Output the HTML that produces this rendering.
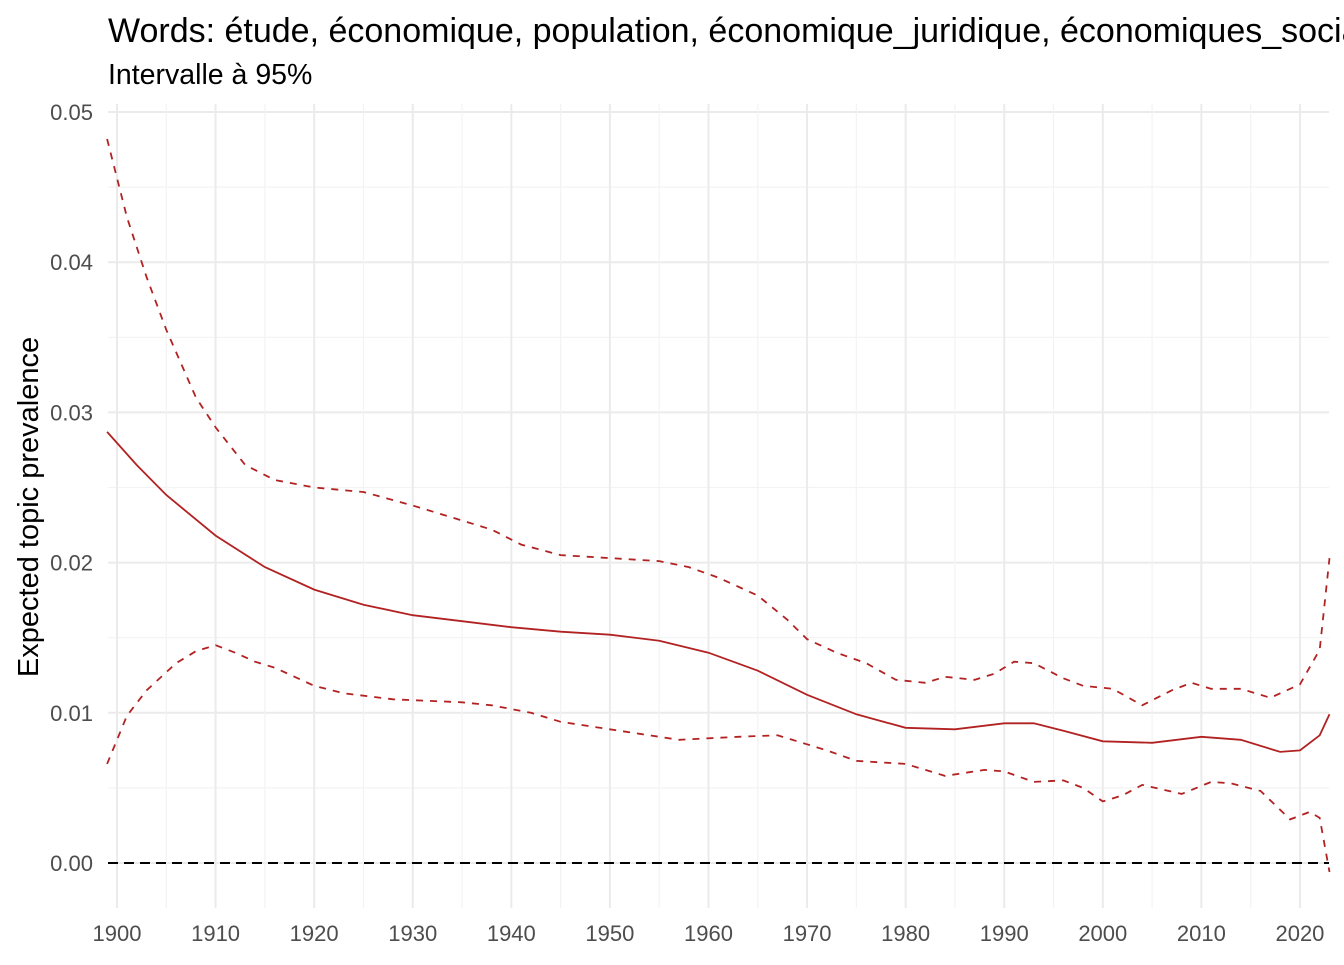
<!DOCTYPE html>
<html><head><meta charset="utf-8"><style>
body{margin:0;background:#fff}
svg text{font-family:"Liberation Sans",Arial,sans-serif}
</style></head><body>
<svg id="s" width="1344" height="960" xmlns="http://www.w3.org/2000/svg">
<text x="108" y="42" font-size="34" fill="#000">Words: étude, économique, population, économique_juridique, économiques_sociales</text>
<text x="108" y="84" font-size="28.5" fill="#000">Intervalle à 95%</text>
<g id="grid"></g>
<g id="lab" font-size="22" fill="#4d4d4d"></g>
<text transform="translate(38,507) rotate(-90)" text-anchor="middle" font-size="29" fill="#000">Expected topic prevalence</text>
<line x1="108" x2="1329" y1="863" y2="863" stroke="#000" stroke-width="2" stroke-dasharray="10,6"/>
<g id="lines" fill="none" stroke="#b22222" stroke-width="1.8"></g>
</svg>
<script>
const X=y=>117+(y-1900)*9.858, Y=v=>863-v*15020;
const ns="http://www.w3.org/2000/svg";
function el(p,t,a,txt){const e=document.createElementNS(ns,t);for(const k in a)e.setAttribute(k,a[k]);if(txt)e.textContent=txt;document.getElementById(p).appendChild(e);}
for(let v=0;v<=0.05001;v+=0.005){const maj=Math.round(v*1000)%10==0;el('grid','line',{x1:108,x2:1329,y1:Y(v),y2:Y(v),stroke:maj?'#ebebeb':'#f3f3f3','stroke-width':maj?2:1.2});
 if(maj)el('lab','text',{x:93,y:Y(v)+8,'text-anchor':'end'},v.toFixed(2));}
for(let yr=1900;yr<=2020;yr+=5){const maj=yr%10==0;el('grid','line',{x1:X(yr),x2:X(yr),y1:104,y2:908,stroke:maj?'#ebebeb':'#f3f3f3','stroke-width':maj?2:1.2});
 if(maj)el('lab','text',{x:X(yr),y:941,'text-anchor':'middle'},yr);}
const mean=[[1899,.0287],[1902,.0265],[1905,.0245],[1910,.0218],[1915,.0197],[1920,.0182],[1925,.0172],[1930,.0165],[1935,.0161],[1940,.0157],[1945,.0154],[1950,.0152],[1955,.0148],[1960,.014],[1965,.0128],[1970,.0112],[1975,.0099],[1980,.009],[1985,.0089],[1990,.0093],[1993,.0093],[1996,.0088],[2000,.0081],[2005,.008],[2010,.0084],[2014,.0082],[2018,.0074],[2020,.0075],[2022,.0085],[2023,.0099]];
const up=[[1899,.0482],[1901,.043],[1903,.039],[1905,.0355],[1908,.031],[1910,.029],[1913,.0265],[1916,.0255],[1920,.025],[1925,.0247],[1930,.0238],[1935,.0228],[1938,.0222],[1941,.0212],[1945,.0205],[1950,.0203],[1955,.0201],[1958,.0197],[1961,.019],[1965,.0178],[1968,.0162],[1970,.0149],[1973,.014],[1976,.0133],[1979,.0122],[1982,.012],[1984,.0124],[1987,.0122],[1989,.0126],[1991,.0134],[1993,.0133],[1996,.0123],[1998,.0118],[2001,.0116],[2004,.0105],[2007,.0115],[2009,.012],[2011,.0116],[2014,.0116],[2017,.011],[2020,.0119],[2022,.0142],[2023,.0203]];
const lo=[[1899,.0066],[1901,.0098],[1903,.0115],[1906,.0133],[1908,.0141],[1910,.0145],[1912,.014],[1914,.0134],[1916,.013],[1920,.0118],[1923,.0113],[1928,.0109],[1935,.0107],[1938,.0105],[1942,.01],[1945,.0094],[1950,.0089],[1953,.0086],[1957,.0082],[1963,.0084],[1967,.0085],[1970,.0079],[1972,.0075],[1975,.0068],[1980,.0066],[1982,.0062],[1984,.0058],[1988,.0062],[1990,.0061],[1993,.0054],[1996,.0055],[1998,.005],[2000,.0041],[2002,.0045],[2004,.0052],[2008,.0046],[2011,.0054],[2013,.0053],[2016,.0048],[2019,.0029],[2021,.0034],[2022,.003],[2023,-.0006]];
const pts=a=>a.map(p=>X(p[0]).toFixed(1)+','+Y(p[1]).toFixed(1)).join(' ');
el('lines','polyline',{points:pts(mean)});
el('lines','polyline',{points:pts(up),'stroke-dasharray':'7,7'});
el('lines','polyline',{points:pts(lo),'stroke-dasharray':'7,7'});
</script>
</body></html>
